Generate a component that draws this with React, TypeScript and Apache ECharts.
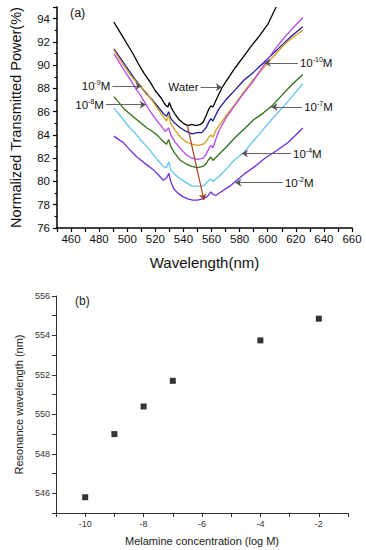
import React, { useEffect, useRef } from 'react';
import * as echarts from 'echarts';

// ---- (a) transmission spectra: [wavelength nm, normalized power %] ----
const waterCurve = [[490.5,93.7],[493,93.2],[496,92.6],[500,91.8],[504,91.0],[508,90.1],[512,89.3],[516,88.6],[520,87.8],[524,87.2],[527,86.6],[529,86.4],[530,86.8],[531.5,86.3],[534,85.8],[537,85.3],[540,85.0],[543,84.8],[546,84.9],[549,84.8],[552,84.9],[554,85.1],[556,85.6],[558,86.2],[559.5,86.5],[561,86.4],[564,87.2],[567.6,88.1],[572,88.9],[577,89.8],[582,90.6],[588,91.6],[594,92.5],[600,93.5],[606,95.0]];
const m10Curve = [[490.5,91.4],[494,90.8],[498,90.1],[502,89.4],[506,88.7],[510,88.1],[514,87.5],[518,87.0],[522,86.4],[526,85.8],[528,85.6],[529.5,86.0],[531,85.4],[534,85.0],[538,84.6],[542,84.3],[546,84.1],[550,84.2],[553,84.2],[556,84.6],[558,85.1],[559.5,85.4],[561,85.2],[565,86.2],[570,87.0],[577,87.9],[583,88.7],[590,89.4],[597,90.2],[603,90.9],[610,91.7],[617,92.5],[625,93.3]];
const m9Curve = [[490.5,91.3],[494,90.6],[498,89.9],[502,89.2],[506,88.6],[510,88.1],[514,87.6],[518,86.9],[522,86.2],[526,85.5],[528,85.2],[529.5,85.7],[531,85.0],[534,84.4],[538,83.8],[542,83.4],[546,83.2],[550,83.1],[554,83.2],[556,83.4],[558,83.8],[559.5,84.0],[561,83.8],[563,84.4],[570,85.6],[577,86.7],[583,87.7],[590,88.8],[600,90.2],[606,91.0],[612,91.8],[618,92.4],[625,93.0]];
const m8Curve = [[490.5,91.0],[494,90.3],[498,89.5],[502,88.8],[506,88.0],[510,87.3],[513,86.7],[516,86.1],[520,85.4],[524,84.8],[527,84.3],[529.5,84.6],[531,84.0],[534,83.4],[538,82.8],[542,82.3],[546,82.0],[550,81.9],[554,82.0],[556,82.3],[558,82.8],[559.5,83.1],[561,82.9],[565,84.3],[570,85.4],[577,86.6],[583,87.6],[589,88.5],[595,89.6],[600,90.5],[606,91.5],[612,92.4],[618,93.2],[625,94.1]];
const m7Curve = [[490.5,87.3],[494,86.8],[498,86.2],[502,85.8],[506,85.4],[510,85.0],[514,84.6],[518,84.3],[522,83.9],[526,83.4],[528,83.2],[529.5,83.6],[531,83.0],[534,82.4],[538,81.8],[542,81.5],[546,81.3],[550,81.2],[554,81.3],[556,81.5],[558,81.9],[559.5,82.1],[561,81.8],[565,82.3],[570,82.9],[577,83.8],[584,84.6],[590,85.3],[597,85.9],[603,86.5],[610,87.4],[617,88.3],[625,89.2]];
const m4Curve = [[490.5,86.3],[494,85.8],[498,85.2],[502,84.6],[506,84.1],[510,83.5],[514,83.0],[518,82.4],[522,81.8],[525.6,81.3],[528,81.2],[529.6,81.7],[531,81.0],[534,80.6],[538,80.2],[542,79.9],[546,79.6],[550,79.6],[554,79.6],[556,79.8],[558,80.1],[559.4,80.2],[561,80.0],[565,80.4],[570,81.0],[576,81.8],[583,82.5],[590,83.5],[597,84.5],[604,85.5],[611,86.4],[618,87.4],[625,88.4]];
const m2Curve = [[490.5,83.9],[494,83.6],[497.6,83.3],[502,82.7],[506.9,82.1],[512,81.6],[518.6,81.0],[522,80.6],[525.6,80.1],[528,80.3],[529.6,80.7],[531,80.0],[533,79.4],[536,79.0],[539.6,78.7],[543,78.5],[546.6,78.4],[550,78.4],[553.6,78.5],[557,78.7],[559.4,79.1],[561,78.9],[563,78.8],[568,79.2],[573,79.6],[577,80.0],[584,80.7],[591,81.3],[598,82.0],[607,82.7],[614,83.3],[620,84.0],[625,84.6]];

// ---- (b) resonance wavelength vs concentration ----
const logConcentration = [-10, -9, -8, -7, -4, -2];
const resonanceWavelength = [545.8, 549.0, 550.4, 551.7, 553.75, 554.85];

const FONT = '"Liberation Sans", Arial, sans-serif';

const sup = { fontSize: 7, padding: [0, 0, 7, 0], color: '#111', fontFamily: FONT };

function arrow(from: number[], to: number[], text: string) {
  return {
    silent: true,
    symbol: ['none', 'arrow'],
    symbolSize: 6,
    lineStyle: { type: 'solid', color: '#555', width: 0.9 },
    label: {
      show: true,
      position: 'start',
      distance: 2,
      formatter: text,
      color: '#111',
      fontSize: 11.5,
      fontFamily: FONT,
      rich: { s: sup },
    },
    emphasis: { disabled: true },
    data: [[{ coord: from }, { coord: to }]],
  };
}

function curve(name: string, data: number[][], color: string, ml: any) {
  return {
    name,
    type: 'line',
    xAxisIndex: 0,
    yAxisIndex: 0,
    data,
    symbol: 'none',
    showSymbol: false,
    lineStyle: { color, width: 1.3 },
    itemStyle: { color },
    markLine: ml,
    silent: true,
  };
}

export default function App() {
  const ref = useRef<HTMLDivElement>(null);
  useEffect(() => {
    document.body.style.margin = '0';
    const chart = echarts.init(ref.current!, null, { renderer: 'svg' });
    const option: any = {
      animation: false,
      backgroundColor: '#fff',
      textStyle: { fontFamily: FONT },
      grid: [
        { left: 52, top: 7, width: 300, height: 221 },
        { left: 56, top: 296, width: 292, height: 217 },
      ],
      xAxis: [
        {
          gridIndex: 0, type: 'value', min: 450, max: 660, interval: 10,
          name: 'Wavelength(nm)', nameLocation: 'middle', nameGap: 27,
          nameTextStyle: { fontSize: 15, color: '#111', fontFamily: FONT },
          axisLine: { show: true, onZero: false, lineStyle: { color: '#000', width: 1.5 } },
          axisTick: { show: true, inside: false, length: 4, lineStyle: { color: '#000', width: 1.2 } },
          axisLabel: {
            margin: 5, fontSize: 11.5, color: '#111', fontFamily: FONT,
            formatter: (v: number) => (Math.round(v - 460) % 20 === 0 && v !== 450 ? String(v) : ''),
          },
          splitLine: { show: false },
        },
        {
          gridIndex: 1, type: 'value', min: -11, max: -1, interval: 1,
          name: 'Melamine concentration (log M)', nameLocation: 'middle', nameGap: 22,
          nameTextStyle: { fontSize: 11, color: '#222', fontFamily: FONT },
          axisLine: { show: true, onZero: false, lineStyle: { color: '#333', width: 1 } },
          axisTick: { show: true, inside: false, length: 4, lineStyle: { color: '#333' } },
          axisLabel: {
            margin: 6, fontSize: 9, color: '#333', fontFamily: FONT,
            formatter: (v: number) => (Math.abs(Math.round(v)) % 2 === 0 ? String(v) : ''),
          },
          splitLine: { show: false },
        },
      ],
      yAxis: [
        {
          gridIndex: 0, type: 'value', min: 76, max: 95, interval: 2,
          name: 'Normalized Transmitted Power(%)', nameLocation: 'middle', nameGap: 34, nameRotate: 90,
          nameTextStyle: { fontSize: 14.5, color: '#111', fontFamily: FONT },
          axisLine: { show: true, onZero: false, lineStyle: { color: '#000', width: 1.5 } },
          axisTick: { show: true, inside: false, length: 4, lineStyle: { color: '#000', width: 1.2 } },
          minorTick: { show: true, splitNumber: 2, length: 2.5, lineStyle: { color: '#000' } },
          axisLabel: {
            margin: 7, fontSize: 11.5, color: '#111', fontFamily: FONT,
            formatter: (v: number) => (Math.round(v) % 2 === 0 ? String(v) : ''),
          },
          splitLine: { show: false },
        },
        {
          gridIndex: 1, type: 'value', min: 545, max: 556, interval: 1,
          name: 'Resonance wavelength (nm)', nameLocation: 'middle', nameGap: 25, nameRotate: 90,
          nameTextStyle: { fontSize: 11, color: '#222', fontFamily: FONT },
          axisLine: { show: true, onZero: false, lineStyle: { color: '#333', width: 1 } },
          axisTick: { show: true, inside: false, length: 4, lineStyle: { color: '#333' } },
          axisLabel: {
            margin: 6, fontSize: 9, color: '#333', fontFamily: FONT,
            formatter: (v: number) => (Math.round(v) % 2 === 0 ? String(v) : ''),
          },
          splitLine: { show: false },
        },
      ],
      graphic: [
        { type: 'text', left: 70, top: 6, style: { text: '(a)', fontSize: 12.5, fill: '#111', fontFamily: FONT } },
        { type: 'text', left: 75, top: 295, style: { text: '(b)', fontSize: 12, fill: '#222', fontFamily: FONT } },
      ],
      series: [
        curve('Water', waterCurve, '#000000', arrow([552.2, 88.1], [567.4, 88.1], 'Water')),
        curve('1e-10', m10Curve, '#1c1c9a', arrow([621.5, 90.2], [597.7, 90.2], '10{s|-10}M')),
        curve('1e-9', m9Curve, '#d6a01e', arrow([489.4, 88.2], [510.2, 88.2], '10{s|-9}M')),
        curve('1e-8', m8Curve, '#b848ea', arrow([484.8, 86.6], [513.2, 86.6], '10{s|-8}M')),
        curve('1e-7', m7Curve, '#2f6e12', arrow([624.5, 86.4], [602.6, 86.4], '10{s|-7}M')),
        curve('1e-4', m4Curve, '#66c6f0', arrow([616.6, 82.4], [581.6, 82.4], '10{s|-4}M')),
        curve('1e-2', m2Curve, '#6a30d8', arrow([610.8, 79.9], [576.9, 79.9], '10{s|-2}M')),
        {
          name: 'shift', type: 'line', xAxisIndex: 0, yAxisIndex: 0, data: [], silent: true,
          markLine: {
            silent: true, symbol: ['none', 'arrow'], symbolSize: 6,
            lineStyle: { type: 'solid', color: '#a8401c', width: 1.2 },
            label: { show: false }, emphasis: { disabled: true },
            data: [[{ coord: [542.6, 84.9] }, { coord: [554.6, 78.4] }]],
          },
        },
        {
          name: 'resonance', type: 'scatter', xAxisIndex: 1, yAxisIndex: 1,
          data: logConcentration.map((c, i) => [c, resonanceWavelength[i]]),
          symbol: 'rect', symbolSize: 6, itemStyle: { color: '#000' }, silent: true,
        },
      ],
    };
    chart.setOption(option);
    return () => chart.dispose();
  }, []);
  return <div ref={ref} style={{ width: 366, height: 550 }} />;
}
